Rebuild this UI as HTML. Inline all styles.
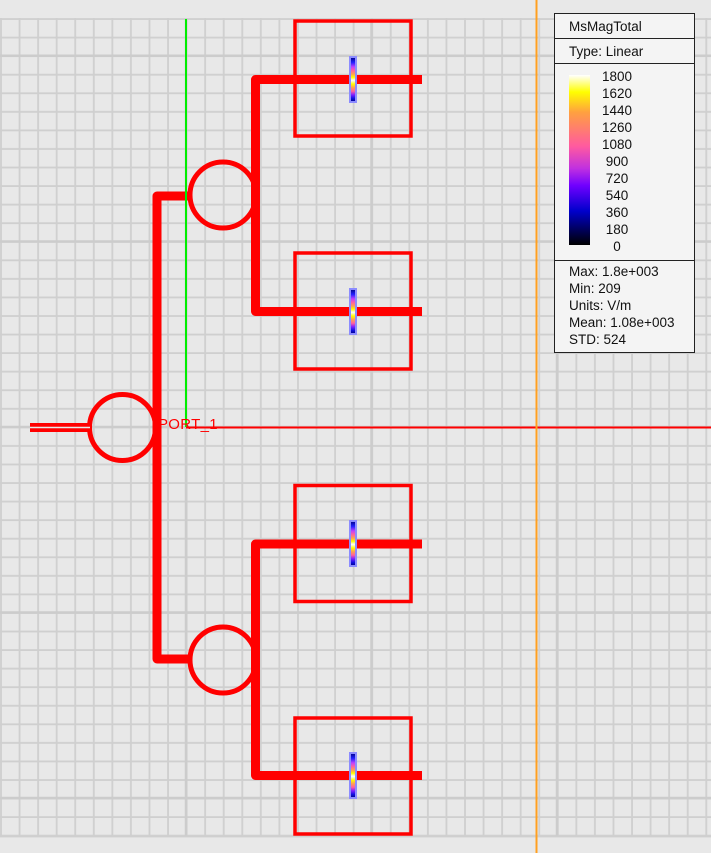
<!DOCTYPE html>
<html><head><meta charset="utf-8"><style>
html,body{margin:0;padding:0;background:#e8e8e8;}
svg{display:block;}
text{font-family:"Liberation Sans",sans-serif;}
</style></head><body>
<svg width="711" height="853" viewBox="0 0 711 853" xmlns="http://www.w3.org/2000/svg">
<defs>
<pattern id="g" patternUnits="userSpaceOnUse" x="0" y="18" width="18.56" height="18.56">
<path d="M0 1 H18.56 M1 0 V18.56" stroke="#cfcfcf" stroke-width="1.8" fill="none"/>
</pattern>
<linearGradient id="pr" x1="0" y1="0" x2="0" y2="1">
<stop offset="0" stop-color="#000080"/><stop offset="0.12" stop-color="#2020ff"/><stop offset="0.22" stop-color="#c040ff"/><stop offset="0.3" stop-color="#ff60a0"/><stop offset="0.38" stop-color="#ffa050"/><stop offset="0.45" stop-color="#ffff00"/><stop offset="0.52" stop-color="#ffffff"/><stop offset="0.6" stop-color="#ffff00"/><stop offset="0.68" stop-color="#ffa050"/><stop offset="0.76" stop-color="#ff60a0"/><stop offset="0.84" stop-color="#8020ff"/><stop offset="0.92" stop-color="#1010e0"/><stop offset="1" stop-color="#000080"/>
</linearGradient>
<linearGradient id="cb" x1="0" y1="0" x2="0" y2="1">
<stop offset="0" stop-color="#ffffff"/><stop offset="0.1" stop-color="#ffff00"/><stop offset="0.22" stop-color="#ffa040"/><stop offset="0.42" stop-color="#ff5aa0"/><stop offset="0.55" stop-color="#c030e0"/><stop offset="0.65" stop-color="#7000ff"/><stop offset="0.8" stop-color="#0000cc"/><stop offset="1" stop-color="#000000"/>
</linearGradient>
</defs>
<rect x="0" y="18" width="711" height="819" fill="url(#g)"/>
<g stroke="#cccccc" stroke-width="2.5">
<line x1="0" y1="55.7" x2="711" y2="55.7"/><line x1="0" y1="241.5" x2="711" y2="241.5"/><line x1="0" y1="427" x2="711" y2="427"/><line x1="0" y1="612.5" x2="711" y2="612.5"/><line x1="0" y1="798" x2="711" y2="798"/>
<line x1="186" y1="18.5" x2="186" y2="836"/><line x1="371.5" y1="18.5" x2="371.5" y2="836"/><line x1="557" y1="18.5" x2="557" y2="836"/>
</g>
<line x1="0" y1="836.5" x2="711" y2="836.5" stroke="#cfcfcf" stroke-width="1.8"/>
<g fill="none" stroke="#ff0000">
<rect x="295" y="21" width="116" height="115" stroke-width="3.5"/>
<rect x="295" y="253" width="116" height="116" stroke-width="3.5"/>
<rect x="295" y="485.5" width="116" height="116" stroke-width="3.5"/>
<rect x="295" y="718" width="116" height="116" stroke-width="3.5"/>
<circle cx="223" cy="195" r="33" stroke-width="5"/>
<circle cx="122.5" cy="427.5" r="33" stroke-width="5"/>
<circle cx="223" cy="660" r="33" stroke-width="5"/>
<g stroke-width="9" stroke-linejoin="round">
<path d="M188 196 H157 V659 H188"/>
<path d="M422 79.5 H255.5 V311.5 H422"/>
<path d="M422 544 H255.5 V775.5 H422"/>
<path d="M30 427.5 H90"/>
</g>
</g>
<line x1="30" y1="427.5" x2="90" y2="427.5" stroke="#e8e8e8" stroke-width="1.5"/>
<g stroke="#8c8cff" stroke-width="2" fill="url(#pr)">
<rect x="350" y="57" width="6" height="45"/>
<rect x="350" y="289" width="6" height="45"/>
<rect x="350" y="521" width="6" height="45"/>
<rect x="350" y="753" width="6" height="45"/>
</g>
<line x1="186" y1="19" x2="186" y2="427" stroke="#00ee00" stroke-width="2"/>
<line x1="186" y1="427.5" x2="711" y2="427.5" stroke="#ff0000" stroke-width="2"/>
<line x1="536.5" y1="0" x2="536.5" y2="853" stroke="#ffa020" stroke-width="2"/>
<text x="158" y="429" font-size="15" fill="#ff0000" letter-spacing="0.3">PORT_1</text>
<rect x="554.5" y="13.5" width="140" height="339" fill="#f4f4f4" stroke="#222" stroke-width="1"/>
<line x1="554.5" y1="38.5" x2="694.5" y2="38.5" stroke="#222"/>
<line x1="554.5" y1="63.5" x2="694.5" y2="63.5" stroke="#222"/>
<line x1="554.5" y1="260.5" x2="694.5" y2="260.5" stroke="#222"/>
<rect x="569" y="75" width="21" height="170" fill="url(#cb)"/>
<g font-size="13.5" fill="#111">
<text x="569" y="31">MsMagTotal</text>
<text x="569" y="56">Type: Linear</text>
<g text-anchor="middle">
<text x="617" y="81">1800</text><text x="617" y="98">1620</text><text x="617" y="115">1440</text><text x="617" y="132">1260</text><text x="617" y="149">1080</text><text x="617" y="166">900</text><text x="617" y="183">720</text><text x="617" y="200">540</text><text x="617" y="217">360</text><text x="617" y="234">180</text><text x="617" y="251">0</text>
</g>
<text x="569" y="276">Max: 1.8e+003</text>
<text x="569" y="293">Min: 209</text>
<text x="569" y="310">Units: V/m</text>
<text x="569" y="327">Mean: 1.08e+003</text>
<text x="569" y="344">STD: 524</text>
</g>
</svg>
</body></html>
